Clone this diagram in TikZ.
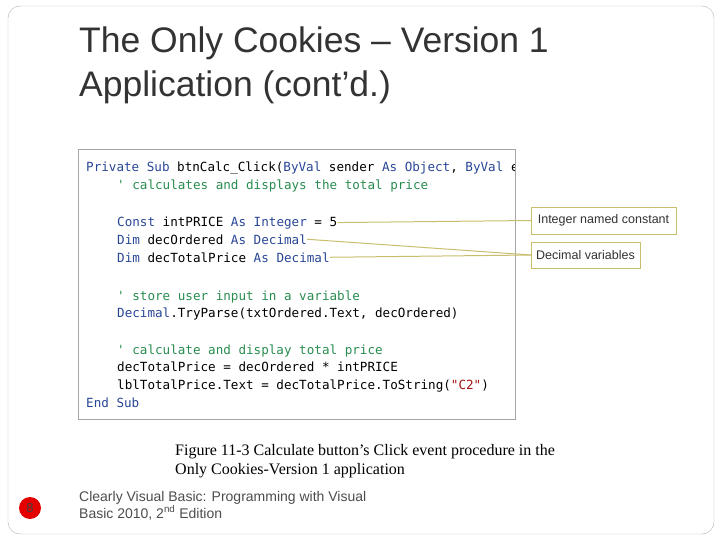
\documentclass[tikz,border=0pt]{standalone}
\usepackage{fontspec}
\setmainfont{Liberation Sans}
\newfontfamily\codefont{DejaVu Sans Mono}
\newfontfamily\capfont{Liberation Serif}
\usetikzlibrary{positioning}
\definecolor{kwblue}{RGB}{40,70,150}
\definecolor{cmgreen}{RGB}{40,140,80}
\definecolor{strred}{RGB}{163,21,21}
\definecolor{callout}{RGB}{200,190,110}
\newcommand{\kw}[1]{\textcolor{kwblue}{#1}}
\newcommand{\cm}[1]{\textcolor{cmgreen}{#1}}
\newcommand{\st}[1]{\textcolor{strred}{#1}}
\begin{document}
\begin{tikzpicture}[x=1pt,y=-1pt]
\tikzstyle{code}=[anchor=base west,inner sep=0pt,font=\codefont\fontsize{12.6}{14}\selectfont]
\tikzstyle{note}=[draw=callout,fill=white,inner sep=0pt,font=\fontsize{12.5}{14}\selectfont,text=black!80]
\tikzstyle{lead}=[draw=callout,line width=1pt]
\useasboundingbox (0,0) rectangle (720,540);
\draw[gray!60,rounded corners=12pt] (8,6) rectangle (714,534);
% title
\node[anchor=base west,inner sep=0pt,text=black!80,font=\fontsize{35.5}{40}\selectfont] (t1) at (79,53) {The Only Cookies -- Version 1};
\node[anchor=base west,inner sep=0pt,text=black!80,font=\fontsize{35.5}{40}\selectfont] (t2) at (79,97) {Application (cont’d.)};
% code box
\draw[gray!70,line width=1pt] (78,150) rectangle (515,419);
\begin{scope}
\clip (79,151) rectangle (514,418);
\node[code] (l1) at (86,172) {\kw{Private Sub} btnCalc\_Click(\kw{ByVal} sender \kw{As} \kw{Object}, \kw{ByVal} e};
\node[code] (l2) at (117,190) {\cm{' calculates and displays the total price}};
\node[code] (l3) at (117,226) {\kw{Const} intPRICE \kw{As} \kw{Integer} = 5};
\node[code] (l4) at (117,244) {\kw{Dim} decOrdered \kw{As} \kw{Decimal}};
\node[code] (l5) at (117,262) {\kw{Dim} decTotalPrice \kw{As} \kw{Decimal}};
\node[code] (l6) at (117,300) {\cm{' store user input in a variable}};
\node[code] (l7) at (117,317) {\kw{Decimal}.TryParse(txtOrdered.Text, decOrdered)};
\node[code] (l8) at (117,354) {\cm{' calculate and display total price}};
\node[code] (l9) at (117,371) {decTotalPrice = decOrdered * intPRICE};
\node[code] (l10) at (117,389) {lblTotalPrice.Text = decTotalPrice.ToString(\st{"C2"})};
\node[code] (l11) at (86,407) {\kw{End Sub}};
\end{scope}
% callouts
\node[note,minimum width=145pt,minimum height=27pt] (const) at (603.5,220.5) {Integer named constant};
\node[note,minimum width=109pt,minimum height=26pt] (vars) at (585.5,255) {Decimal variables};
\draw[lead] (l3.east) -- (const.west);
\draw[lead] (l4.east) -- (vars.west);
\draw[lead] (l5.east) -- (vars.west);
% caption
\node[anchor=base west,inner sep=0pt,font=\capfont\fontsize{16}{18}\selectfont] (cap1) at (175,455) {Figure 11-3 Calculate button’s Click event procedure in the};
\node[anchor=base west,inner sep=0pt,font=\capfont\fontsize{16}{18}\selectfont] (cap2) at (175,474) {Only Cookies-Version 1 application};
% footer
\node[circle,fill=red!90!black,minimum size=22pt,inner sep=0pt,font=\fontsize{13}{15}\selectfont] (pg) at (30,508) {\textcolor{black!75}{8}};
\node[anchor=base west,inner sep=0pt,text=black!70,font=\fontsize{14}{16}\selectfont] (f1) at (79,501) {Clearly Visual Basic: Programming with Visual};
\node[anchor=base west,inner sep=0pt,text=black!70,font=\fontsize{14}{16}\selectfont] (f2) at (79,518) {Basic 2010, 2\textsuperscript{nd} Edition};
\end{tikzpicture}
\end{document}
